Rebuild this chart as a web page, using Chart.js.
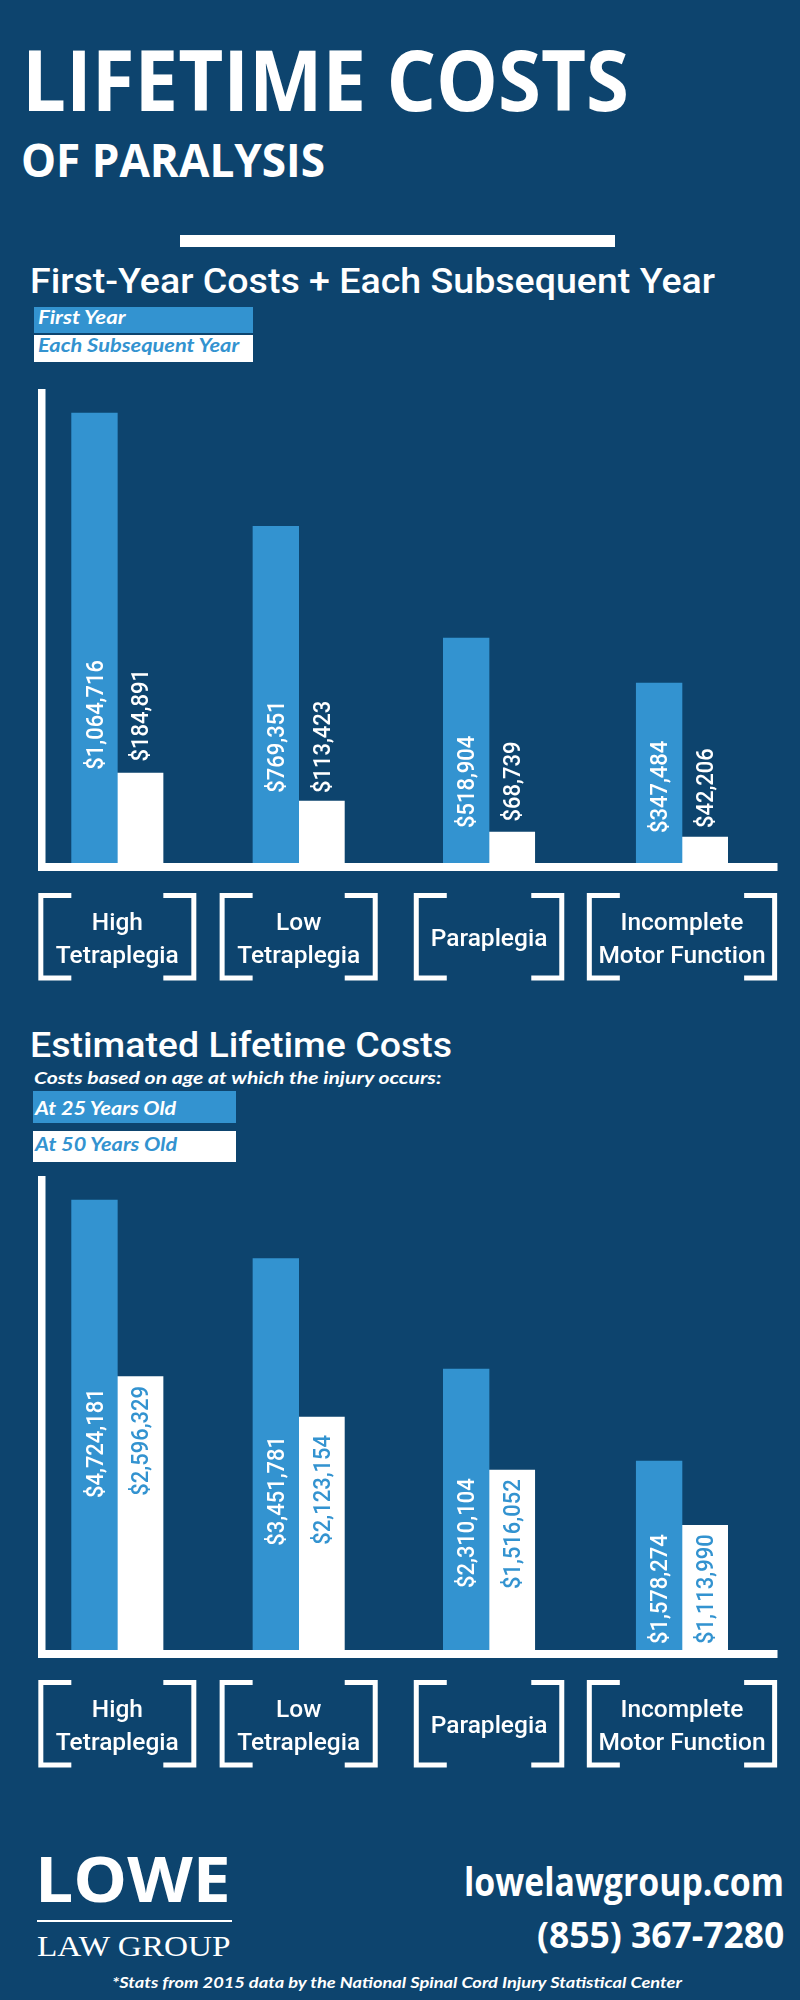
<!DOCTYPE html>
<html><head><meta charset="utf-8">
<style>
html,body{margin:0;padding:0;background:#0d446e;}
#page{position:relative;width:800px;height:2000px;overflow:hidden;background:#0d446e;}
canvas{position:absolute;left:0;}
.t{position:absolute;white-space:nowrap;line-height:0;transform-origin:0 0;}
.box{position:absolute;}
</style>
<script src="https://cdn.jsdelivr.net/npm/chart.js@4"></script>
</head><body><div id="page">
<div class="box" style="left:179.6px;top:235px;width:435.2px;height:12.3px;background:#fff"></div>
<div class="box" style="left:36.5px;top:1920px;width:195.5px;height:2px;background:#fff"></div>
<div style="position:absolute;left:0;top:389px;width:800px;height:604px"><canvas id="c1"></canvas></div>
<div style="position:absolute;left:0;top:1176px;width:800px;height:604px"><canvas id="c2"></canvas></div>
</div>
<script>
// ---- data ----
const categories = [["High","Tetraplegia"],["Low","Tetraplegia"],"Paraplegia",["Incomplete","Motor Function"]];
const seriesNamesA = ["First Year","Each Subsequent Year"];
const seriesNamesB = ["At 25 Years Old","At 50 Years Old"];
// Figures printed on the bars.
const firstYearPrinted = [1064716,769351,518904,347484];
const subsequentPrinted = [184891,113423,68739,42206];
const age25Printed = [4724181,3451781,2310104,1578274];
const age50Printed = [2596329,2123154,1516052,1113990];
// The reference's bars are not drawn to scale with their printed figures,
// so these are the bar lengths, in the same dollars.
const firstYearBars = [1064716,796400,532400,425900];
const subsequentBars = [212900,146700,73300,61500];
const age25Bars = [4724181,4107900,2950000,1984100];
const age50Bars = [2869100,2446000,1889600,1309100];
const axisMaxA = 1121500;
const axisMaxB = 4976000;

// ---- style ----
const NAVY="#0d446e", BLUE="#3393d0", WHITE="#ffffff";
const groupNudge=[3,-4.1,-2.2,2.3];
const bracketWidths=[158,158.1,150.5,190.3];

class NudgedCategory extends Chart.CategoryScale{
  getPixelForValue(value,index){
    const v=typeof value==='number'?value:this.parse(value);
    return super.getPixelForValue(v,index)+(groupNudge[v]||0);
  }
}
NudgedCategory.id='nudgedCategory';
NudgedCategory.defaults=Chart.CategoryScale.defaults;
Chart.register(NudgedCategory);

const decor={
  id:'decor',
  afterDatasetsDraw(chart,args,o){
    const ctx=chart.ctx,y0=chart.scales.y.getPixelForValue(0),x=chart.scales.x;
    ctx.save();
    ctx.fillStyle=WHITE;
    ctx.fillRect(38,chart.chartArea.top,7.5,y0+8-chart.chartArea.top);
    ctx.fillRect(38,y0,739.5,8);
    // brackets around the category ticks
    ctx.strokeStyle=WHITE;ctx.lineWidth=5;ctx.lineJoin='miter';
    const top=y0+30+2.5,bot=y0+117.5-2.5,arm=33;
    x.ticks.forEach((t,i)=>{
      const c=x.getPixelForTick(i),w=bracketWidths[i]/2,l=c-w+2.5,r=c+w-2.5;
      ctx.beginPath();ctx.moveTo(l-2.5+arm,top);ctx.lineTo(l,top);ctx.lineTo(l,bot);ctx.lineTo(l-2.5+arm,bot);ctx.stroke();
      ctx.beginPath();ctx.moveTo(r+2.5-arm,top);ctx.lineTo(r,top);ctx.lineTo(r,bot);ctx.lineTo(r+2.5-arm,bot);ctx.stroke();
    });
    // rotated value labels
    const m1=chart.getDatasetMeta(1).data;
    ctx.font='500 23px Roboto';ctx.textBaseline='alphabetic';
    [0,1].forEach(ds=>{
      const bars=chart.getDatasetMeta(ds).data;
      bars.forEach((b,i)=>{
        ctx.save();
        ctx.translate(b.x+8.2,m1[i].y+o.gaps[ds][i]);
        ctx.rotate(-Math.PI/2);
        ctx.scale(0.955,1);
        ctx.textAlign=o.align;
        ctx.fillStyle=o.colors[ds];
        ctx.fillText('$'+o.printed[ds][i].toLocaleString('en-US'),0,0);
        ctx.restore();
      });
    });
    ctx.restore();
  }
};
Chart.register(decor);

function makeChart(id,names,a,b,max,printed,gaps,align,colors){
  return new Chart(document.getElementById(id),{
    type:'bar',
    data:{labels:categories,datasets:[
      {label:names[0],data:a,backgroundColor:BLUE,barThickness:45.7,borderWidth:0},
      {label:names[1],data:b,backgroundColor:WHITE,barThickness:45.7,borderWidth:0}
    ]},
    options:{
      responsive:false,animation:false,
      layout:{autoPadding:false,padding:{left:20.1,right:26.1,top:0,bottom:0}},
      plugins:{legend:{display:false},tooltip:{enabled:false},title:{display:false},
        decor:{printed,gaps,align,colors}},
      scales:{
        x:{type:'nudgedCategory',offset:true,
          afterFit(s){s.height=130;s.paddingLeft=0;s.paddingRight=0;},
          grid:{display:false,drawTicks:false},border:{display:false},
          ticks:{autoSkip:false,maxRotation:0,minRotation:0,crossAlign:'center',padding:60.5,color:WHITE,
            font:{family:'Roboto',weight:'500',size:24.5,lineHeight:1.347}}},
        y:{display:false,min:0,max:max}
      }
    }
  });
}
for(const id of ['c1','c2']){const c=document.getElementById(id);c.width=800;c.height=604;c.style.width='800px';c.style.height='604px';}
makeChart('c1',seriesNamesA,firstYearBars,subsequentBars,axisMaxA,[firstYearPrinted,subsequentPrinted],
  [[-3.3,-8.3,-4,-4],[-11.6,-8,-10.6,-9]],'left',[WHITE,WHITE]);
makeChart('c2',seriesNamesB,age25Bars,age50Bars,axisMaxB,[age25Printed,age50Printed],
  [[11.6,19,8.3,9],[9.3,18,9.3,9]],'right',[WHITE,BLUE]);

// ---- page text ----
const mctx=document.createElement('canvas').getContext('2d');
function text(s,x0,x1,base,font,color){
  const el=document.createElement('div');el.className='t';el.textContent=s;
  el.style.font=font;el.style.lineHeight='0';el.style.color=color;
  mctx.font=font;const m=mctx.measureText(s);
  el.style.left=x0+'px';
  el.style.top=(base-(m.fontBoundingBoxAscent-m.fontBoundingBoxDescent)/2)+'px';
  el.style.transform='scaleX('+((x1-x0)/m.width)+')';
  document.getElementById('page').appendChild(el);
}
function box(x,y,w,h,c){const d=document.createElement('div');d.className='box';
  d.style.cssText=`left:${x}px;top:${y}px;width:${w}px;height:${h}px;background:${c}`;
  document.getElementById('page').appendChild(d);}
box(33.7,306.7,218.9,26,BLUE);box(33.7,335,218.9,26.7,WHITE);
box(32.7,1090.7,203,32,BLUE);box(33,1130.7,203,31.3,WHITE);
text("LIFETIME COSTS",22,629,110.5,"700 85px 'Open Sans'",WHITE);
text("OF PARALYSIS",21,325,177,"700 46px 'Open Sans'",WHITE);
text("First-Year Costs + Each Subsequent Year",30,715,293.3,"500 35px Roboto",WHITE);
text(seriesNamesA[0],38,126.5,324,"italic 700 18px Lato",WHITE);
text(seriesNamesA[1],38,240,352.3,"italic 700 18px Lato",BLUE);
text("Estimated Lifetime Costs",30,452,1057,"500 35px Roboto",WHITE);
text("Costs based on age at which the injury occurs:",34,442,1084,"italic 700 17px Lato",WHITE);
text(seriesNamesB[0],35,177,1115,"italic 700 19px Lato",WHITE);
text(seriesNamesB[1],35,178,1151,"italic 700 19px Lato",BLUE);
text("LOWE",35,230.6,1902,"700 62px 'Open Sans'",WHITE);
text("LAW GROUP",37,231,1956.7,"400 30px 'Liberation Serif'",WHITE);
text("lowelawgroup.com",464,784,1896,"700 40px 'Open Sans'",WHITE);
text("(855) 367-7280",536.7,784,1948,"700 36px 'Open Sans'",WHITE);
text("*Stats from 2015 data by the National Spinal Cord Injury Statistical Center",112,682.7,1988,"italic 700 15px Lato",WHITE);
</script>
</body></html>
